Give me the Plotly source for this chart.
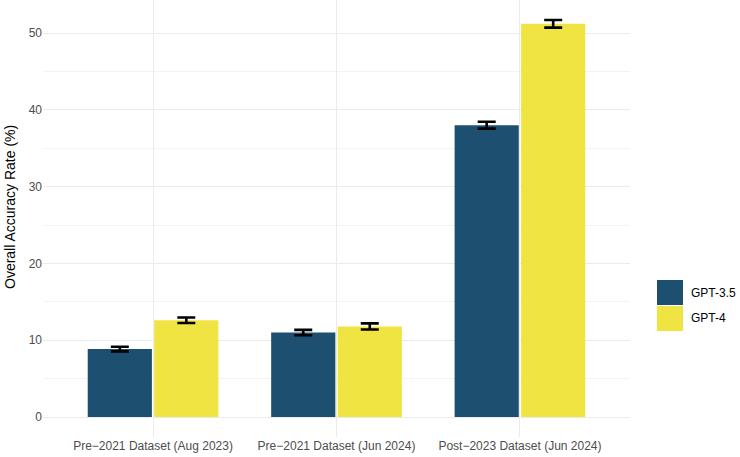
import plotly.graph_objects as go

# Data
datasets = ["Pre\u22122021 Dataset (Aug 2023)", "Pre\u22122021 Dataset (Jun 2024)", "Post\u22122023 Dataset (Jun 2024)"]
models = ["GPT-3.5", "GPT-4"]
gpt35_acc = [8.85, 11.0, 38.0]
gpt35_err = [0.3, 0.35, 0.45]
gpt4_acc = [12.6, 11.8, 51.2]
gpt4_err = [0.35, 0.4, 0.5]
yticks = [0, 10, 20, 30, 40, 50]

colors = {"GPT-3.5": "#1C4F70", "GPT-4": "#F0E442"}
font_family = "Liberation Sans, Arial, sans-serif"

# Panel geometry (pixels)
W, H = 740, 457
L, R, T, B = 43, 110, 0, 20
pw, ph = W - L - R, H - T - B

fig = go.Figure()
for name, acc, err in [("GPT-3.5", gpt35_acc, gpt35_err), ("GPT-4", gpt4_acc, gpt4_err)]:
    fig.add_trace(go.Bar(
        x=datasets, y=acc, name=name,
        marker=dict(color=colors[name], line=dict(width=0)),
        error_y=dict(type="data", array=err, visible=True,
                     color="black", thickness=2.6, width=9),
        showlegend=False,
    ))

fig.update_layout(
    width=W, height=H,
    margin=dict(l=L, r=R, t=T, b=B),
    paper_bgcolor="white", plot_bgcolor="white",
    barmode="group", bargap=0.275, bargroupgap=0.035,
    font=dict(family=font_family, color="#4D4D4D", size=12),
    xaxis=dict(
        range=[-0.6, 2.6], showgrid=True, gridcolor="#EBEBEB", gridwidth=1,
        ticks="", showline=False, zeroline=False, automargin=False,
        tickfont=dict(size=12, color="#4D4D4D"),
    ),
    yaxis=dict(
        range=[-2.6, 54.3], tickvals=yticks, showgrid=True, gridcolor="#EBEBEB",
        gridwidth=1, zeroline=False, ticks="", showline=False, automargin=False,
        tickfont=dict(size=12, color="#4D4D4D"),
        minor=dict(dtick=10, tick0=5, showgrid=True, gridcolor="#F3F3F3", gridwidth=0.6),
    ),
)

# y axis title
fig.add_annotation(xref="paper", yref="paper",
                   x=(10 - L) / pw, y=(H - B - 207) / ph,
                   text="Overall Accuracy Rate (%)", textangle=-90, showarrow=False,
                   xanchor="center", yanchor="middle",
                   font=dict(size=14, color="black", family=font_family))

# Legend drawn by hand to get the large ggplot-style keys
key_top = [280, 306]
for name, top in zip(models, key_top):
    fig.add_shape(type="rect", xref="paper", yref="paper",
                  x0=(657 - L) / pw, x1=(683 - L) / pw,
                  y0=(H - B - top - 25) / ph, y1=(H - B - top) / ph,
                  fillcolor=colors[name], line=dict(width=0))
    fig.add_annotation(xref="paper", yref="paper",
                       x=(689 - L) / pw, y=(H - B - top - 12.5) / ph,
                       text=name, showarrow=False, xanchor="left", yanchor="middle",
                       font=dict(size=12, color="black", family=font_family))

# page body has a default 8px margin; drop it so the figure fills the window
fig.write_html("out.html", config={"displayModeBar": False},
               post_script="document.body.style.margin='0';")
